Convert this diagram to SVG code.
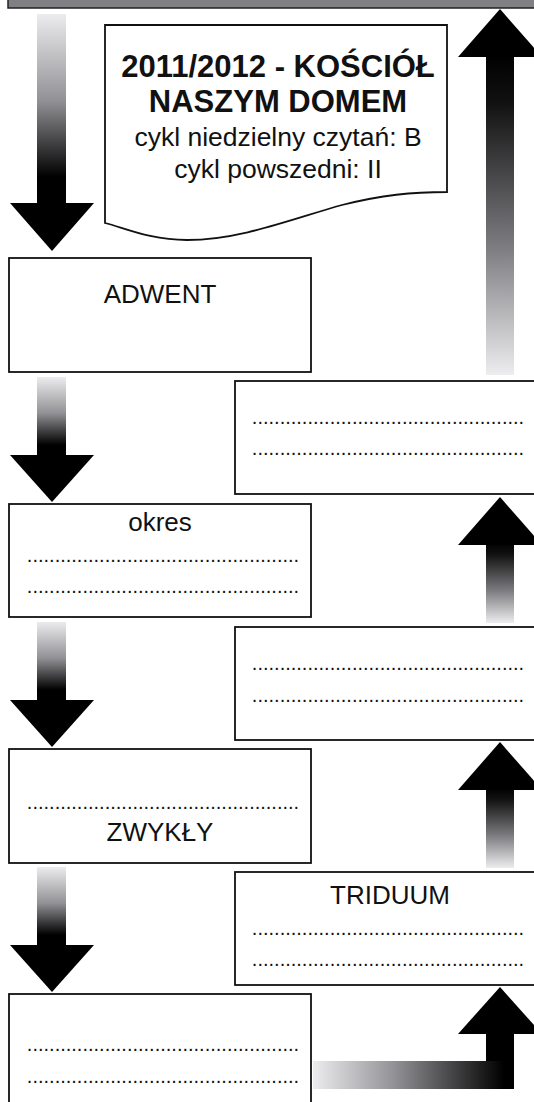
<svg xmlns="http://www.w3.org/2000/svg" width="534" height="1102" viewBox="0 0 534 1102">
<defs>
<linearGradient id="gDown" x1="0" y1="0" x2="0" y2="1">
<stop offset="0" stop-color="#ececee"/>
<stop offset="0.45" stop-color="#929296"/>
<stop offset="0.85" stop-color="#000"/>
<stop offset="1" stop-color="#000"/>
</linearGradient>
<linearGradient id="gUp" x1="0" y1="0" x2="0" y2="1">
<stop offset="0" stop-color="#000"/>
<stop offset="0.15" stop-color="#111"/>
<stop offset="0.6" stop-color="#7c7c80"/>
<stop offset="1" stop-color="#ededef"/>
</linearGradient>
<linearGradient id="gRight" x1="0" y1="0" x2="1" y2="0">
<stop offset="0" stop-color="#ececee"/>
<stop offset="0.4" stop-color="#939397"/>
<stop offset="0.95" stop-color="#000"/>
<stop offset="1" stop-color="#000"/>
</linearGradient>
<style>
.box{fill:#fff;stroke:#111;stroke-width:1.8}
.head{fill:#000}
.t{font-family:"Liberation Sans",Arial,sans-serif;fill:#111;text-anchor:middle}
.big{font-size:31px;font-weight:bold}
.mid{font-size:26.5px}
.lab{font-size:26px}
.dots{font-size:20px}
</style>
</defs>

<g id="connectors">
<rect x="8" y="-10" width="540" height="18" fill="#808084" stroke="#222" stroke-width="1.5"/>
<!-- left down arrows -->
<g id="down1"><rect x="37" y="14" width="29" height="192" fill="url(#gDown)"/><polygon class="head" points="10,203 94,203 52,251"/></g>
<g id="down2"><rect x="37" y="377" width="29" height="80" fill="url(#gDown)"/><polygon class="head" points="10,455 94,455 52,502"/></g>
<g id="down3"><rect x="37" y="622" width="29" height="80" fill="url(#gDown)"/><polygon class="head" points="10,700 94,700 52,747"/></g>
<g id="down4"><rect x="37" y="867" width="29" height="80" fill="url(#gDown)"/><polygon class="head" points="10,945 94,945 52,992"/></g>
<!-- right up arrows -->
<g id="up1"><rect x="486" y="54" width="28" height="321" fill="url(#gUp)"/><polygon class="head" points="458,57 542,57 500,9"/></g>
<g id="up2"><rect x="486" y="542" width="28" height="81" fill="url(#gUp)"/><polygon class="head" points="458,545 542,545 500,497"/></g>
<g id="up3"><rect x="486" y="787" width="28" height="81" fill="url(#gUp)"/><polygon class="head" points="458,790 542,790 500,742"/></g>
<g id="up4"><rect x="486" y="1031" width="28" height="32" fill="#000"/><polygon class="head" points="458,1034 542,1034 500,987"/>
<rect x="313" y="1061" width="201" height="28" fill="url(#gRight)"/></g>
</g>

<g id="node-title">
<path class="box" d="M105,25 H447 V192 C412,192 382,195 342,205 C292,219 240,240 187,240 C150,240 125,228 105,223 Z"/>
<text class="t big" x="278" y="77">2011/2012 - KOŚCIÓŁ</text>
<text class="t big" x="278" y="112">NASZYM DOMEM</text>
<text class="t mid" x="278" y="146">cykl niedzielny czytań: B</text>
<text class="t mid" x="278" y="178">cykl powszedni: II</text>
</g>

<g id="node-adwent">
<rect class="box" x="9" y="258" width="302" height="114"/>
<text class="t lab" x="160" y="303">ADWENT</text>
</g>

<g id="node-right1">
<rect class="box" x="235" y="381" width="312" height="113"/>
<text class="t dots" x="388" y="424">.................................................</text>
<text class="t dots" x="388" y="455">.................................................</text>
</g>

<g id="node-okres">
<rect class="box" x="9" y="504" width="302" height="113"/>
<text class="t lab" x="160" y="531">okres</text>
<text class="t dots" x="163" y="562">.................................................</text>
<text class="t dots" x="163" y="593">.................................................</text>
</g>

<g id="node-right2">
<rect class="box" x="235" y="627" width="312" height="113"/>
<text class="t dots" x="388" y="670">.................................................</text>
<text class="t dots" x="388" y="702">.................................................</text>
</g>

<g id="node-zwykly">
<rect class="box" x="9" y="749" width="302" height="114"/>
<text class="t dots" x="163" y="809">.................................................</text>
<text class="t lab" x="160" y="841">ZWYKŁY</text>
</g>

<g id="node-triduum">
<rect class="box" x="235" y="872" width="312" height="113"/>
<text class="t lab" x="390" y="904">TRIDUUM</text>
<text class="t dots" x="388" y="935">.................................................</text>
<text class="t dots" x="388" y="966">.................................................</text>
</g>

<g id="node-bottom">
<rect class="box" x="9" y="994" width="302" height="120"/>
<text class="t dots" x="163" y="1051">.................................................</text>
<text class="t dots" x="163" y="1083">.................................................</text>
</g>
</svg>
